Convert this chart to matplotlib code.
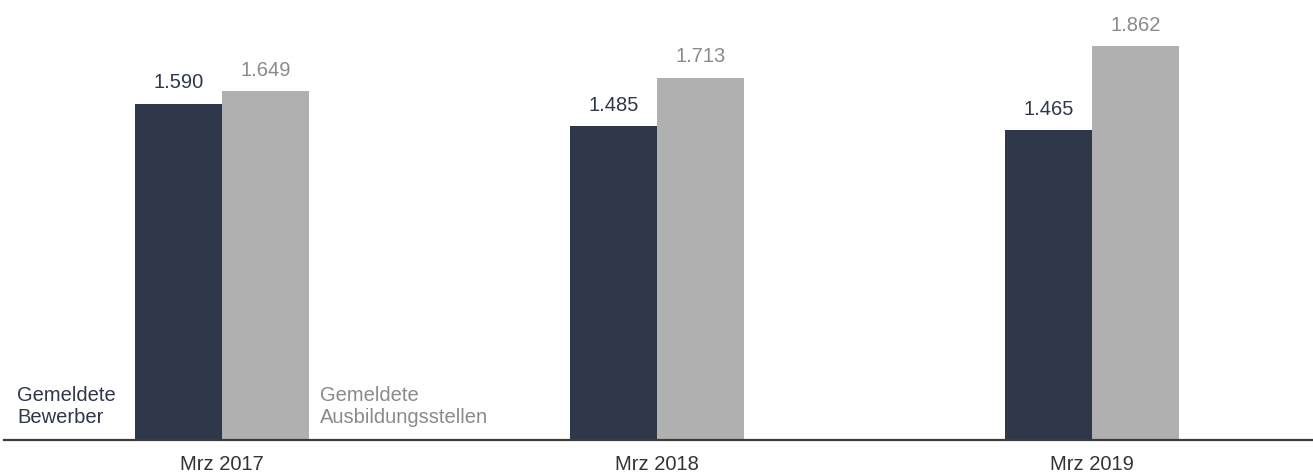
"""Gemeldete Bewerber vs. Ausbildungsstellen, Maerz 2017-2019."""

import matplotlib

matplotlib.use("Agg")
import matplotlib.pyplot as plt
import numpy as np

plt.rcParams["font.family"] = ["Liberation Sans", "DejaVu Sans"]

categories = ["Mrz 2017", "Mrz 2018", "Mrz 2019"]
bewerber = [1590, 1485, 1465]
stellen = [1649, 1713, 1862]
series_labels = ["Gemeldete\nBewerber", "Gemeldete\nAusbildungsstellen"]

DARK = "#2f374b"
GREY = "#b0b0b0"
GREY_TEXT = "#8a8a8a"
AXIS = "#3c3c3c"
FS = 14.5


def fmt(value):
    # German thousands separator
    return f"{value:,}".replace(",", ".")


fig = plt.figure(figsize=(13.13, 4.75), dpi=100)
ax = fig.add_axes([4 / 1313, 35 / 475, 1309 / 1313, 440 / 475])

x = np.arange(len(categories))
width = 0.2
bars_a = ax.bar(x - width / 2, bewerber, width, color=DARK, linewidth=0)
bars_b = ax.bar(x + width / 2, stellen, width, color=GREY, linewidth=0)

for bars, color in ((bars_a, DARK), (bars_b, GREY_TEXT)):
    for bar in bars:
        ax.annotate(
            fmt(int(bar.get_height())),
            xy=(bar.get_x() + bar.get_width() / 2, bar.get_height()),
            xytext=(0, 11),
            textcoords="offset points",
            ha="center",
            va="baseline",
            fontsize=FS,
            color=color,
        )

# series labels next to the first group
ax.annotate(
    series_labels[0],
    xy=(-0.471, 0),
    xytext=(0, 9.5),
    textcoords="offset points",
    ha="left",
    va="bottom",
    fontsize=FS,
    color=DARK,
    linespacing=1.2,
)
ax.annotate(
    series_labels[1],
    xy=(width + 0.025, 0),
    xytext=(0, 9.5),
    textcoords="offset points",
    ha="left",
    va="bottom",
    fontsize=FS,
    color=GREY_TEXT,
    linespacing=1.2,
)

ax.set_xlim(-0.5011, 2.508)
ax.set_ylim(0, 2080)
ax.set_xticks(x)
ax.set_xticklabels(categories, fontsize=FS, color="#333333")
ax.tick_params(axis="x", length=0, pad=10.5)
ax.set_yticks([])

for side in ("top", "right", "left"):
    ax.spines[side].set_visible(False)
ax.spines["bottom"].set_color(AXIS)
ax.spines["bottom"].set_linewidth(1.6)

fig.savefig("out.png", dpi=100)
